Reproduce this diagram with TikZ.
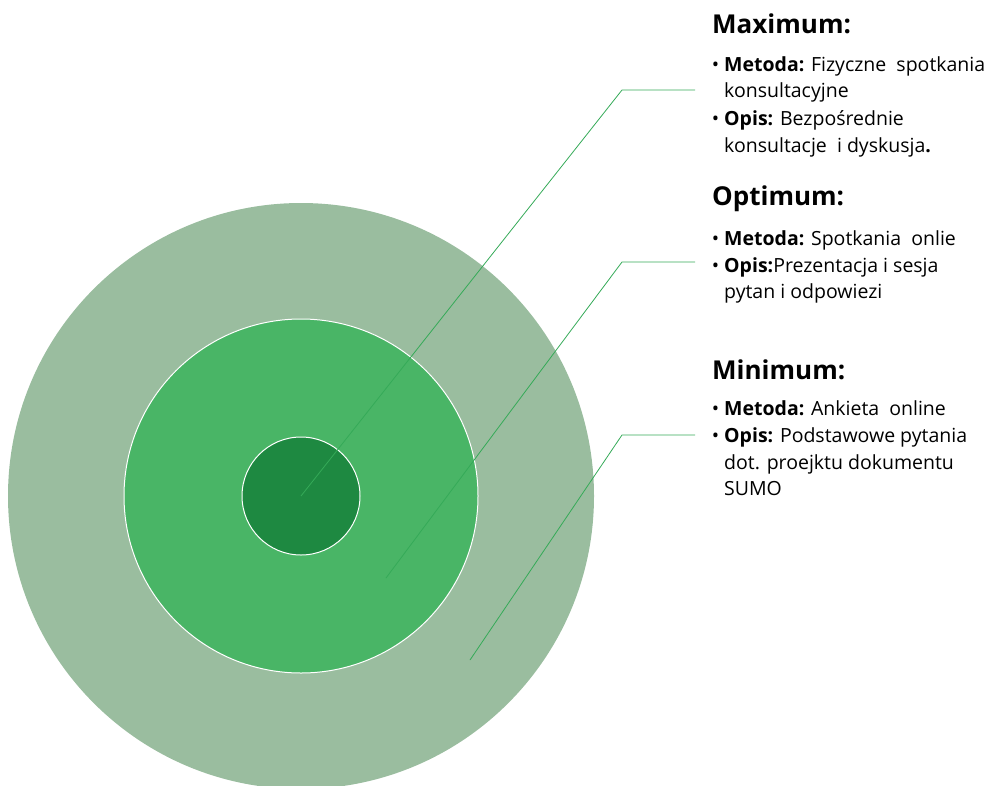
\documentclass[tikz,border=0pt]{standalone}
\usepackage{fontspec}
\setmainfont{Open Sans}
\definecolor{ringouter}{HTML}{9ABD9F}
\definecolor{ringmid}{HTML}{49B566}
\definecolor{ringinner}{HTML}{1E8941}
\definecolor{leader}{HTML}{35AA58}
\tikzset{
  ring/.style={circle, inner sep=0pt, draw=white, line width=1pt},
  leaderline/.style={draw=leader, line width=0.8pt},
  heading/.style={anchor=base west, inner sep=0pt, font=\fontsize{26}{31}\selectfont\bfseries},
  bodyline/.style={anchor=base west, inner sep=0pt, font=\fontsize{19.5}{23}\selectfont},
}
\newcommand{\bul}{\llap{\textbullet\hspace{5pt}}}
\begin{document}
\begin{tikzpicture}[x=1pt, y=-1pt]
\useasboundingbox (0,0) rectangle (990,785);
% circles
\node[ring, draw=none, fill=ringouter, minimum size=586pt] (outer) at (301,496) {};
\node[ring, fill=ringmid, minimum size=354pt] (middle) at (301,496) {};
\node[ring, fill=ringinner, minimum size=118pt] (inner) at (301,496) {};
% leader coordinates
\coordinate (s1) at (301,496);
\coordinate (k1) at (622,90);
\coordinate (e1) at (695,90);
\coordinate (s2) at (386,578);
\coordinate (k2) at (622,262);
\coordinate (e2) at (695,262);
\coordinate (s3) at (470,660);
\coordinate (k3) at (622,435);
\coordinate (e3) at (695,435);
\draw[leaderline] (s1) -- (k1) -- (e1);
\draw[leaderline] (s2) -- (k2) -- (e2);
\draw[leaderline] (s3) -- (k3) -- (e3);
% texts
\node[heading] (hmax) at (712,33) {Maximum:};
\node[bodyline] (max1) at (724,71) {\bul\textbf{Metoda:} Fizyczne\ \ spotkania};
\node[bodyline] (max2) at (724,97) {konsultacyjne};
\node[bodyline] (max3) at (724,125) {\bul\textbf{Opis:} Bezpośrednie};
\node[bodyline] (max4) at (724,152) {konsultacje\ \ i dyskusja\textbf{.}};
\node[heading] (hopt) at (712,205) {Optimum:};
\node[bodyline] (opt1) at (724,245) {\bul\textbf{Metoda:} Spotkania\ \ onlie};
\node[bodyline] (opt2) at (724,272) {\bul\textbf{Opis:}Prezentacja i sesja};
\node[bodyline] (opt3) at (724,298) {pytan i odpowiezi};
\node[heading] (hmin) at (712,379) {Minimum:};
\node[bodyline] (min1) at (724,415) {\bul\textbf{Metoda:} Ankieta\ \ online};
\node[bodyline] (min2) at (724,442) {\bul\textbf{Opis:} Podstawowe pytania};
\node[bodyline] (min3) at (724,469) {dot. proejktu dokumentu};
\node[bodyline] (min4) at (724,495) {SUMO};
\end{tikzpicture}
\end{document}
